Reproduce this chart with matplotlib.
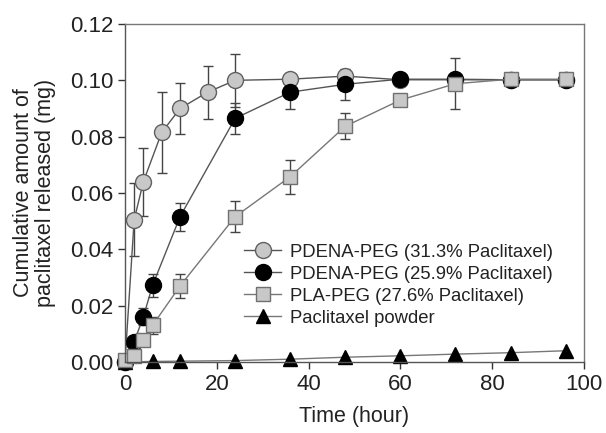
import numpy as np
import matplotlib
matplotlib.use('Agg')
import matplotlib.pyplot as plt

plt.rcParams['font.family'] = ['Liberation Sans', 'DejaVu Sans']

# PDENA-PEG (31.3% Paclitaxel)
t_grey = [0, 2, 4, 8, 12, 18, 24, 36, 48, 60, 72, 84, 96]
y_grey = [0.0, 0.0505, 0.064, 0.0815, 0.090, 0.0958, 0.100, 0.1004, 0.1015, 0.1002, 0.1002, 0.1002, 0.1002]
e_grey = [0.0, 0.013, 0.012, 0.0145, 0.009, 0.0094, 0.0095, 0.002, 0.002, 0.001, 0.001, 0.001, 0.002]

# PDENA-PEG (25.9% Paclitaxel)
t_black = [0, 2, 4, 6, 12, 24, 36, 48, 60, 72, 84, 96]
y_black = [0.0, 0.0072, 0.016, 0.0272, 0.0516, 0.0865, 0.0958, 0.0986, 0.1004, 0.1004, 0.1002, 0.1002]
e_black = [0.0, 0.002, 0.003, 0.004, 0.005, 0.0056, 0.006, 0.0055, 0.001, 0.001, 0.001, 0.001]

# PLA-PEG (27.6% Paclitaxel)
t_sq = [0, 2, 4, 6, 12, 24, 36, 48, 60, 72, 84, 96]
y_sq = [0.0007, 0.002, 0.0078, 0.013, 0.027, 0.0516, 0.0658, 0.0837, 0.093, 0.0988, 0.1004, 0.1004]
e_sq = [0.0, 0.001, 0.002, 0.003, 0.0043, 0.0054, 0.006, 0.0046, 0.001, 0.009, 0.001, 0.002]

# Paclitaxel powder
t_tri = [0, 6, 12, 24, 36, 48, 60, 72, 84, 96]
y_tri = [0.0, 0.0002, 0.0003, 0.0005, 0.001, 0.0017, 0.0022, 0.0028, 0.0033, 0.004]

labels = ['PDENA-PEG (31.3% Paclitaxel)', 'PDENA-PEG (25.9% Paclitaxel)',
          'PLA-PEG (27.6% Paclitaxel)', 'Paclitaxel powder']

fig = plt.figure(figsize=(6.06, 4.33), dpi=100)
ax = fig.add_axes([125/606, 1-362/433, 459/606, 338/433])

lc = '#555555'
eb = dict(ecolor='#444444', elinewidth=1, capsize=3.6, capthick=1)
h1 = ax.errorbar(t_grey, y_grey, yerr=e_grey, fmt='-o', color=lc, lw=1,
                 mfc='#c8c8c8', mec='#606060', ms=11.5, mew=1, **eb)
h2 = ax.errorbar(t_black, y_black, yerr=e_black, fmt='-o', color=lc, lw=1,
                 mfc='black', mec='black', ms=11.5, mew=1, **eb)
h3 = ax.errorbar(t_sq, y_sq, yerr=e_sq, fmt='-s', color='#777777', lw=1,
                 mfc='#c8c8c8', mec='#707070', ms=10, mew=1, **eb)
h4, = ax.plot(t_tri, y_tri, '-^', color='#777777', lw=1,
              mfc='black', mec='black', ms=10.5)

for h in (h1, h2, h3):
    h.lines[0].set_clip_on(False)
h4.set_clip_on(False)

ax.set_xlim(0, 100)
ax.set_ylim(0, 0.12)
ax.set_xticks([0, 20, 40, 60, 80, 100])
ax.set_yticks([0, 0.02, 0.04, 0.06, 0.08, 0.10, 0.12])
ax.yaxis.set_major_formatter(matplotlib.ticker.FormatStrFormatter('%.2f'))
ax.tick_params(direction='out', length=5, width=1, labelsize=16, colors='#333333',
               labelcolor='#222222')
for s in ax.spines.values():
    s.set_color('#777777')
    s.set_linewidth(1)
ax.spines['left'].set_color('#555555')
ax.spines['bottom'].set_color('#555555')

ax.set_xlabel('Time (hour)', fontsize=15.5, color='#222222', labelpad=8)
ax.set_ylabel('Cumulative amount of\npaclitaxel released (mg)', fontsize=15.5,
              color='#222222', labelpad=10, linespacing=1.05)

# legend without the error bars
leg = ax.legend([h1[0], h2[0], h3[0], h4], labels, loc='upper left',
                bbox_to_anchor=(0.26, 0.35), frameon=False,
                fontsize=13.3, handlelength=2.0, handletextpad=0.45,
                labelspacing=0.27, borderpad=0, borderaxespad=0,
                labelcolor='#222222')

fig.savefig('out.png', dpi=100)
